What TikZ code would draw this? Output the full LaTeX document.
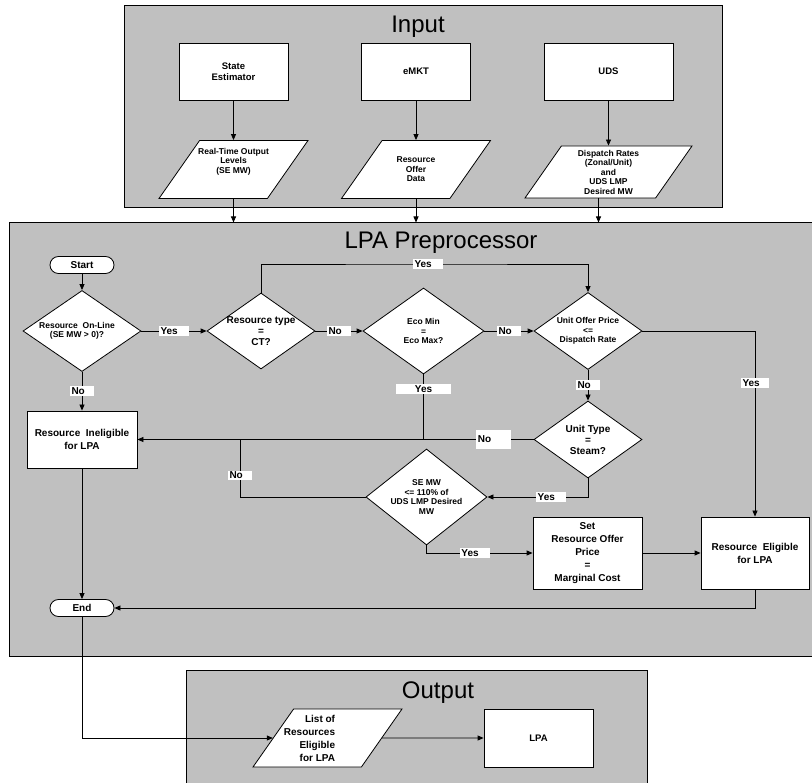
\documentclass[tikz,border=0pt]{standalone}
\usepackage{fontspec}
\setmainfont{Liberation Sans}
\usepackage{xcolor}
\usepackage{tikz}
\usetikzlibrary{arrows.meta,shapes.geometric}
\definecolor{panelgray}{RGB}{192,192,192}

\begin{document}
\begin{tikzpicture}[x=1pt, y=-1pt, line width=0.8pt,
    panel/.style={draw, fill=panelgray, line width=1pt, inner sep=0pt},
    ptitle/.style={font=\fontsize{24}{26}\selectfont, anchor=base},
    proc/.style={draw, fill=white, inner sep=1pt, align=center, font=\bfseries\fontsize{9.5}{11}\selectfont},
    procl/.style={proc, font=\bfseries\fontsize{10}{13}\selectfont},
    term/.style={draw, fill=white, rounded corners=8.5pt, minimum width=64pt, minimum height=17pt, font=\bfseries\fontsize{10}{12}\selectfont},
    dec/.style={diamond, draw, fill=white, inner sep=0pt},
    io/.style={trapezium, trapezium left angle=55, trapezium right angle=125, trapezium stretches body=true, draw, fill=white, inner sep=0pt},
    txt/.style={align=center, font=\bfseries\fontsize{8.5}{9.5}\selectfont},
    txtl/.style={align=center, font=\bfseries\fontsize{10}{11}\selectfont},
    lbl/.style={fill=white, inner sep=1.5pt, text width=#1, align=left, font=\bfseries\fontsize{10}{11}\selectfont},
    lbl/.default=21pt,
    arr/.style={-{Triangle[length=6pt,width=5pt]}}
]
    \useasboundingbox (0,0) rectangle (812,783);

    % Input
    \node[panel, minimum width=598pt, minimum height=202pt] (input) at (423,107) {};
    \node[ptitle] (inputtitle) at (418,33) {Input};
    \node[proc, minimum width=109pt, minimum height=57pt] (se) at (233.5,71.5) {State\\Estimator};
    \node[proc, minimum width=109pt, minimum height=57pt] (emkt) at (416,71.5) {eMKT};
    \node[proc, minimum width=129pt, minimum height=57pt] (uds) at (608.5,71.5) {UDS};
    \node[io, minimum width=149pt,
          label={[txt, yshift=8pt]center:Real-Time Output\\Levels\\(SE MW)}] (setime) at (233.5,169.5) {\rule{0pt}{58pt}};
    \node[io, minimum width=149pt,
          label={[txt]center:Resource\\Offer\\Data}] (offer) at (416,169.5) {\rule{0pt}{58pt}};
    \node[io, minimum width=167pt,
          label={[txt]center:Dispatch Rates\\(Zonal/Unit)\\and\\UDS LMP\\Desired MW}] (dispatch) at (608.5,172) {\rule{0pt}{52pt}};

    % LPA Preprocessor
    \node[panel, minimum width=821pt, minimum height=433pt] (pre) at (419.5,439.5) {};
    \node[ptitle] (pretitle) at (441,249) {LPA Preprocessor};
    \node[term] (start) at (82,265) {Start};
    \node[dec, minimum width=118pt, minimum height=81pt,
          label={[txt, xshift=-5pt]center:Resource~~On-Line\\(SE MW > 0)?}] (online) at (82,331) {};
    \node[dec, minimum width=108pt, minimum height=76pt,
          label={[txtl]center:Resource type\\=\\CT?}] (ct) at (261,331) {};
    \node[dec, minimum width=121pt, minimum height=86pt,
          label={[txt]center:Eco Min\\=\\Eco Max?}] (eco) at (423.5,331) {};
    \node[dec, minimum width=108pt, minimum height=77pt,
          label={[txt]center:Unit Offer Price\\<=\\Dispatch Rate}] (price) at (588,331) {};
    \node[dec, minimum width=108pt, minimum height=77pt,
          label={[txtl]center:Unit Type\\=\\Steam?}] (steam) at (588,439.5) {};
    \node[dec, minimum width=121pt, minimum height=96pt,
          label={[txt]center:SE MW\\<= 110\% of\\UDS LMP Desired\\MW}] (semw) at (426.5,497) {};
    \node[procl, minimum width=110pt, minimum height=57pt] (inelig) at (82,439.5) {Resource~~Ineligible\\for LPA};
    \node[procl, minimum width=109pt, minimum height=72pt] (setprice) at (587.5,553) {Set\\Resource Offer\\Price\\=\\Marginal Cost};
    \node[procl, minimum width=108pt, minimum height=72pt] (elig) at (755,553) {Resource~~Eligible\\for LPA};
    \node[term] (end) at (82,608) {End};

    % Output
    \node[panel, minimum width=461pt, minimum height=130pt] (output) at (416.5,735) {};
    \node[ptitle] (outputtitle) at (438,698) {Output};
    \node[io, minimum width=149pt,
          label={[align=right, font=\bfseries\fontsize{10}{13}\selectfont, xshift=-18pt]center:List of\\Resources\\Eligible\\for LPA}] (list) at (327.5,738) {\rule{0pt}{58pt}};
    \node[proc, minimum width=109pt, minimum height=58pt] (lpa) at (538.5,738) {LPA};

    % Input edges
    \draw[arr] (se.south) -- (setime.north);
    \draw[arr] (emkt.south) -- (offer.north);
    \draw[arr] (uds.south) -- (dispatch.north);
    \coordinate (dispout) at ([xshift=-10pt]dispatch.south);
    \draw[arr] (setime.south) -- (setime.south |- pre.north);
    \draw[arr] (offer.south) -- (offer.south |- pre.north);
    \draw[arr] (dispout) -- (dispout |- pre.north);

    % Preprocessor edges
    \draw[arr] (start) -- (online);
    \draw[arr] (online) -- node[lbl=27pt] {Yes} (ct);
    \draw[arr] (ct) -- node[lbl] {No} (eco);
    \draw[arr] (eco) -- node[lbl] {No} (price);
    % CT loops over to the price check
    \coordinate (yesloop) at (428,264);
    \draw[arr] (ct.north) |- (yesloop) node[lbl=27pt] {Yes} -| (price.north);
    \draw[arr] (price.east) -| node[lbl=25pt, pos=0.64] {Yes} (elig.north);
    \draw[arr] (price) -- node[lbl] {No} (steam);
    \draw[arr] (steam.west) -- node[lbl=32pt, pos=0.1, minimum height=19pt] {No} (inelig.east);
    \draw (eco.south) -- node[lbl=52pt, pos=0.22, align=center] {Yes} (eco.south |- inelig.east);
    \draw[arr] (online) -- node[lbl] {No} (inelig);
    \draw[arr] (steam.south) |- node[lbl=27pt, pos=0.683] {Yes} (semw.east);
    \coordinate (nojoin) at (240,439.5);
    \draw (semw.west) -| node[lbl, pos=0.687] {No} (nojoin);
    \draw[arr] (semw.south) |- node[lbl=27pt, pos=0.728] {Yes} (setprice.west);
    \draw[arr] (setprice) -- (elig);
    \draw[arr] (elig.south) |- (end.east);
    \draw[arr] (inelig) -- (end);

    % Output edges
    \draw[arr] (end.south) |- (list.west);
    \draw[arr] (list.east) -- (lpa.west);
\end{tikzpicture}
\end{document}
